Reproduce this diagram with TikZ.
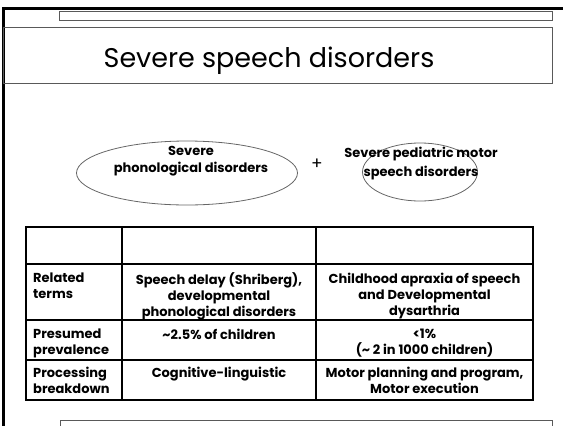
\documentclass[tikz,border=0pt]{standalone}
\usepackage{fontspec}
\setmainfont{Poppins}
\usetikzlibrary{shapes.geometric}

\begin{document}
\begin{tikzpicture}[x=1pt,y=-1pt,
  framepen/.style={line width=2.4pt, draw=black},
  boxpen/.style={draw=black!65, line width=0.9pt},
  ovalpen/.style={draw=black!60, line width=0.8pt},
  gridpen/.style={draw=black, line width=1.4pt},
  bodytext/.style={font=\bfseries\fontsize{13}{16}\selectfont, inner sep=0pt},
  cellc/.style={bodytext, align=center, anchor=north},
  celll/.style={bodytext, align=left, anchor=north west},
]
\useasboundingbox (0,0) rectangle (563,426);

% slide frame (top and left edges)
\draw[framepen] (3.5,427) -- (3.5,8.5) -- (564,8.5);

% strip above the title
\draw[boxpen] (59,11) rectangle (552,20);

% title bar
\draw[boxpen] (3,27) rectangle (552,83.5);
\node[font=\fontsize{27}{32}\selectfont, inner sep=0pt, anchor=base] (title) at (269,67) {Severe speech disorders};

% the two disorder groups
\node[ellipse, ovalpen, minimum width=221pt, minimum height=64pt, inner sep=0pt] (phon) at (187,173) {};
\node[bodytext, font=\bfseries\fontsize{13}{17}\selectfont, align=center] (phontext) at (191,161) {Severe\\phonological disorders};
\node[font=\fontsize{17}{17}\selectfont, inner sep=0pt] (plus) at (317,164) {+};
\node[ellipse, ovalpen, minimum width=115pt, minimum height=58pt, inner sep=0pt] (motor) at (420,172) {};
\node[bodytext, font=\bfseries\fontsize{13}{18.5}\selectfont, align=center] (motortext) at (421,163.5) {Severe pediatric motor\\speech disorders};

% comparison table grid
\draw[gridpen] (26,227) rectangle (533,400);
\foreach \yy in {264,320,360} \draw[gridpen] (26,\yy) -- (533,\yy);
\foreach \xx in {122,316} \draw[gridpen] (\xx,227) -- (\xx,400);

% row: related terms
\node[celll] (rel) at (33,272.5) {Related\\terms};
\node[cellc] (relphon) at (219,272.5) {Speech delay (Shriberg),\\developmental\\phonological disorders};
\node[cellc] (relmotor) at (424.5,272.5) {Childhood apraxia of speech\\and Developmental\\dysarthria};

% row: prevalence
\node[celll] (prev) at (33,328.5) {Presumed\\prevalence};
\node[cellc] (prevphon) at (219,328.5) {\textasciitilde2.5\% of children};
\node[cellc] (prevmotor) at (424.5,328.5) {<1\%\\(\textasciitilde\ 2 in 1000 children)};

% row: processing breakdown
\node[celll] (proc) at (33,366.5) {Processing\\breakdown};
\node[cellc] (procphon) at (219,366.5) {Cognitive-linguistic};
\node[cellc] (procmotor) at (424.5,366.5) {Motor planning and program,\\Motor execution};

% box below the table
\draw[boxpen] (60,428) -- (60,420) -- (552,420) -- (552,428);
\end{tikzpicture}
\end{document}
